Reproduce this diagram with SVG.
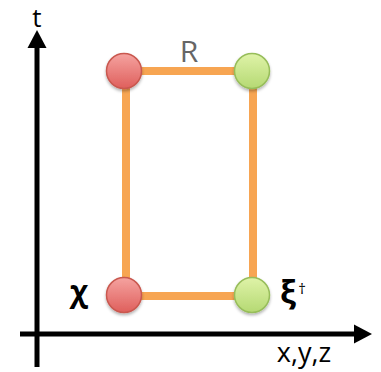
<svg xmlns="http://www.w3.org/2000/svg" width="381" height="372" viewBox="0 0 381 372">
<style>
.ax{stroke:#000;stroke-width:5;fill:none}
.edge{stroke:#f7a552;stroke-width:8;fill:none}
.lbl{font-family:"Open Sans","Liberation Sans",sans-serif;fill:#000}
.red{fill:url(#gr);stroke:#c9584f;stroke-width:1.5;filter:url(#sh)}
.grn{fill:url(#gg);stroke:#97bd5a;stroke-width:1.5;filter:url(#sh)}
</style>
<defs>
<linearGradient id="gr" x1="0" y1="0" x2="0" y2="1"><stop offset="0" stop-color="#f5a3a0"/><stop offset="1" stop-color="#df5f5c"/></linearGradient>
<linearGradient id="gg" x1="0" y1="0" x2="0" y2="1"><stop offset="0" stop-color="#dff3a8"/><stop offset="1" stop-color="#b5d973"/></linearGradient>
<filter id="sh" x="-30%" y="-30%" width="160%" height="170%"><feDropShadow dx="0" dy="2" stdDeviation="1.5" flood-color="#000" flood-opacity="0.3"/></filter>
</defs>
<g id="axes">
<line class="ax" x1="37" y1="367" x2="37" y2="45"/>
<polygon points="37,30 27.5,48 46.5,48" fill="#000"/>
<line class="ax" x1="20" y1="334" x2="357" y2="334"/>
<polygon points="372,334 354,324.5 354,343.5" fill="#000"/>
<text class="lbl" x="37" y="27" font-size="26" text-anchor="middle">t</text>
<text class="lbl" x="304" y="362" font-size="27" text-anchor="middle">x,y,z</text>
</g>
<g id="connectors">
<line class="edge" x1="124" y1="71" x2="252" y2="71"/>
<line class="edge" x1="126" y1="71" x2="126" y2="295"/>
<line class="edge" x1="253" y1="71" x2="253" y2="295"/>
<line class="edge" x1="124" y1="296" x2="252" y2="296"/>
<text class="lbl" x="189" y="62" font-size="30" style="fill:#666" text-anchor="middle">R</text>
</g>
<g id="n_tl"><circle class="red" cx="124" cy="71" r="17.5"/></g>
<g id="n_tr"><circle class="grn" cx="252" cy="71" r="17.5"/></g>
<g id="n_bl"><circle class="red" cx="124" cy="295" r="17.5"/><text class="lbl" x="79" y="302" font-size="30" font-weight="bold" text-anchor="middle">χ</text></g>
<g id="n_br"><circle class="grn" cx="252" cy="295" r="17.5"/><text class="lbl" x="288" y="304" font-size="32" font-weight="bold" text-anchor="middle">ξ</text><text class="lbl" x="302" y="294" font-size="15" text-anchor="middle">†</text></g>
</svg>
